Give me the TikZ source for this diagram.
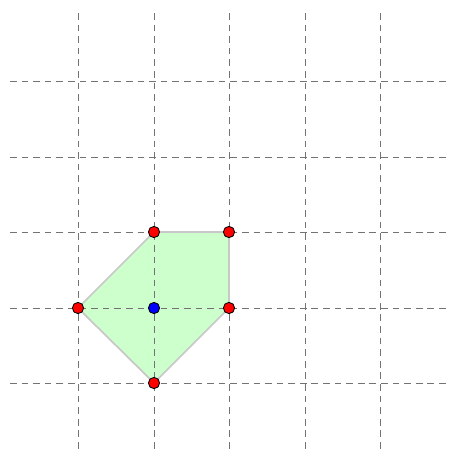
\documentclass[tikz,border=0pt]{standalone}
\begin{document}
\begin{tikzpicture}[x=0.02cm,y=-0.02cm,
  gridline/.style={draw=black!55,line width=0.5pt,dash pattern=on 3.8pt off 2.8pt},
  poly/.style={fill={rgb,255:red,204;green,255;blue,204},draw={rgb,255:red,200;green,200;blue,200},line width=1pt},
  redpt/.style={circle,fill=red,draw=black,line width=0.5pt,inner sep=0pt,minimum size=6.4pt},
  bluept/.style={circle,fill=blue,draw=black,line width=0.5pt,inner sep=0pt,minimum size=6.4pt}]
\useasboundingbox (0,0) rectangle (449,450);
\coordinate (A) at (154,232);
\coordinate (B) at (229,232);
\coordinate (C) at (229,308);
\coordinate (D) at (154,383);
\coordinate (E) at (78,308);
\coordinate (F) at (154,308);
\fill[poly,draw=none] (A) -- (B) -- (C) -- (D) -- (E) -- cycle;
\foreach \x in {78,154,229,305,380} \draw[gridline] (\x,13) -- (\x,450);
\foreach \y in {81,157,232,308,383} \draw[gridline] (10,\y) -- (449,\y);
\draw[poly,fill=none] (A) -- (B) -- (C) -- (D) -- (E) -- cycle;
\node[redpt] (pA) at (A) {};
\node[redpt] (pB) at (B) {};
\node[redpt] (pC) at (C) {};
\node[redpt] (pD) at (D) {};
\node[redpt] (pE) at (E) {};
\node[bluept] (pF) at (F) {};
\end{tikzpicture}
\end{document}
